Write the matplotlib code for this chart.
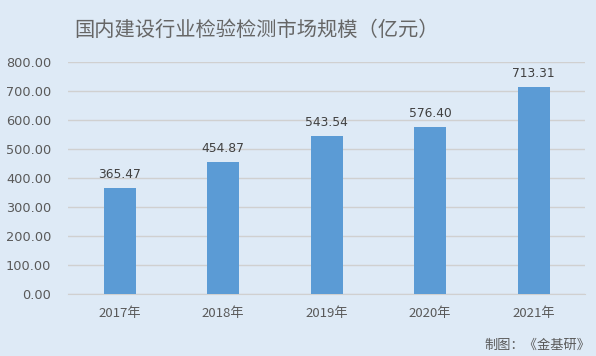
import matplotlib
matplotlib.use("Agg")
import matplotlib.pyplot as plt

years = ["2017年", "2018年", "2019年", "2020年", "2021年"]
values = [365.47, 454.87, 543.54, 576.40, 713.31]
yticks = [0, 100, 200, 300, 400, 500, 600, 700, 800]
title = "国内建设行业检验检测市场规模（亿元）"
source = "制图：《金基研》"

plt.rcParams['font.family'] = ['Noto Sans CJK SC', 'DejaVu Sans']
bg = "#DEEAF6"
fig = plt.figure(figsize=(5.96, 3.56), dpi=100, facecolor=bg)
ax = fig.add_axes([0.114, 0.174, 0.868, 0.652], facecolor=bg)

x = range(len(years))
bars = ax.bar(x, values, width=0.31, color="#5B9BD5", zorder=3)
for xi, v in zip(x, values):
    ax.text(xi, v + 24, f"{v:.2f}", ha="center", va="bottom", fontsize=8.8, color="#404040",
            family=['DejaVu Sans'])

ax.set_xlim(-0.5, len(years) - 0.5)
ax.set_ylim(0, 800)
ax.set_yticks(yticks)
ax.set_yticklabels([f"{t:.2f}" for t in yticks], fontsize=9.3, color="#595959", family=['DejaVu Sans'])
ax.set_xticks(list(x))
ax.set_xticklabels(years, fontsize=9.5, color="#595959")
ax.tick_params(axis='y', length=0, pad=12)
ax.tick_params(axis='x', length=0, pad=9)
ax.yaxis.grid(True, color="#D0D0D0", linewidth=1, zorder=0)
for s in ["top", "right", "left"]:
    ax.spines[s].set_visible(False)
ax.spines["bottom"].set_color("#D0D0D0")

fig.text(257 / 596, 1 - 30 / 356, title, ha="center", va="center", fontsize=14.6, color="#666666")
fig.text(590 / 596, 1 - 345 / 356, source, ha="right", va="center", fontsize=9.5, color="#595959")

fig.savefig("out.png", dpi=100, facecolor=bg)
